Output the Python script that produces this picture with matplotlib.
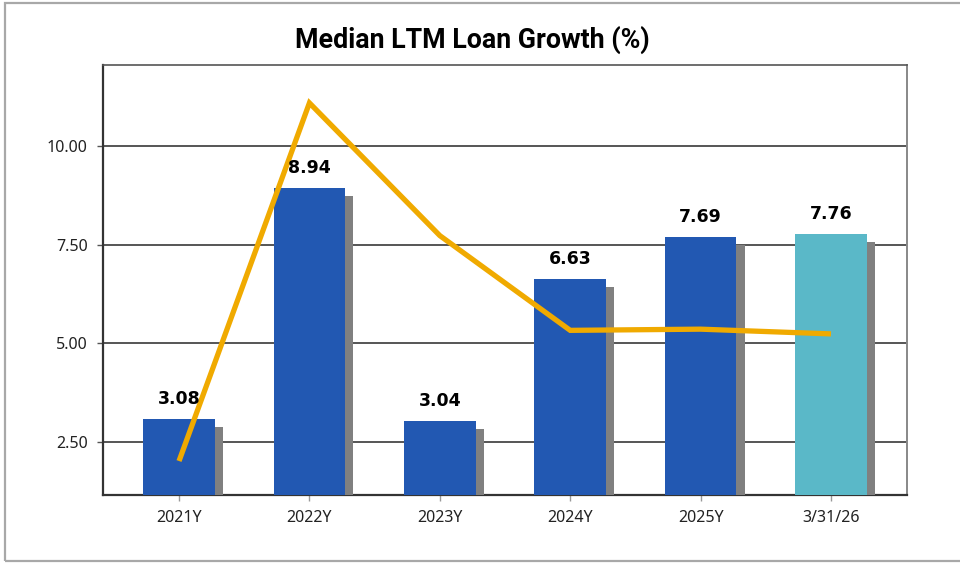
import matplotlib.pyplot as plt
import matplotlib.patheffects as pe
from matplotlib.patches import Rectangle

# Data
categories = ['2021Y', '2022Y', '2023Y', '2024Y', '2025Y', '3/31/26']
bar_values = [3.08, 8.94, 3.04, 6.63, 7.69, 7.76]
line_values = [2.02, 11.09, 7.73, 5.33, 5.36, 5.24]
y_ticks = [2.5, 5.0, 7.5, 10.0]

BLUE = '#2258B2'
TEAL = '#5AB8C8'
GOLD = '#F0AA00'
SHADOW = '#808080'


def main():
    plt.rcParams['font.family'] = ['Noto Sans', 'DejaVu Sans']

    fig = plt.figure(figsize=(9.6, 5.63), dpi=100)
    ax = fig.add_axes([0.1073, 0.1208, 0.8375, 0.7637])

    x = list(range(len(categories)))
    colors = [BLUE] * (len(categories) - 1) + [TEAL]

    bars = ax.bar(x, bar_values, width=0.55, color=colors, zorder=3)
    for bar in bars:
        bar.set_path_effects([
            pe.SimplePatchShadow(offset=(5.8, -5.8), shadow_rgbFace=SHADOW,
                                 alpha=1.0),
            pe.Normal()])

    ax.plot(x, line_values, color=GOLD, lw=3.8, zorder=4,
            solid_capstyle='butt', solid_joinstyle='miter')

    for xi, val in zip(x, bar_values):
        ax.annotate(f'{val:.2f}', (xi, val), xytext=(0, 8),
                    textcoords='offset points', ha='center', va='bottom',
                    fontsize=12.5, fontweight='bold', color='black',
                    family=['DejaVu Sans'], zorder=5)

    ax.set_xlim(-0.583, 5.583)
    ax.set_ylim(1.16, 12.05)
    ax.set_xticks(x)
    ax.set_xticklabels(categories)
    ax.set_yticks(y_ticks)
    ax.set_yticklabels([f'{v:.2f}' for v in y_ticks])
    ax.tick_params(axis='both', labelsize=11.5, colors='#222222',
                   length=4, width=1)
    ax.tick_params(axis='x', color='#999999', pad=7)
    ax.tick_params(axis='y', color='#555555', pad=7)

    ax.grid(axis='y', color='#555555', lw=1.4, zorder=1)
    ax.set_axisbelow(True)

    ax.spines['left'].set_color('#333333')
    ax.spines['left'].set_linewidth(1.6)
    ax.spines['bottom'].set_color('#333333')
    ax.spines['bottom'].set_linewidth(1.6)
    ax.spines['top'].set_color('#555555')
    ax.spines['top'].set_linewidth(1.2)
    ax.spines['right'].set_color('#888888')
    ax.spines['right'].set_linewidth(1.4)

    fig.text(0.492, 0.929, 'Median LTM Loan Growth (%)', ha='center',
             va='center', fontsize=19.3, fontweight='bold',
             family=['Roboto', 'DejaVu Sans'])

    border = Rectangle((0.005, 0.004), 1.2, 0.99, transform=fig.transFigure,
                       fill=False, edgecolor='#A8A8A8', lw=1.6)
    fig.patches.append(border)

    fig.savefig('out.png', dpi=100)


if __name__ == '__main__':
    main()
